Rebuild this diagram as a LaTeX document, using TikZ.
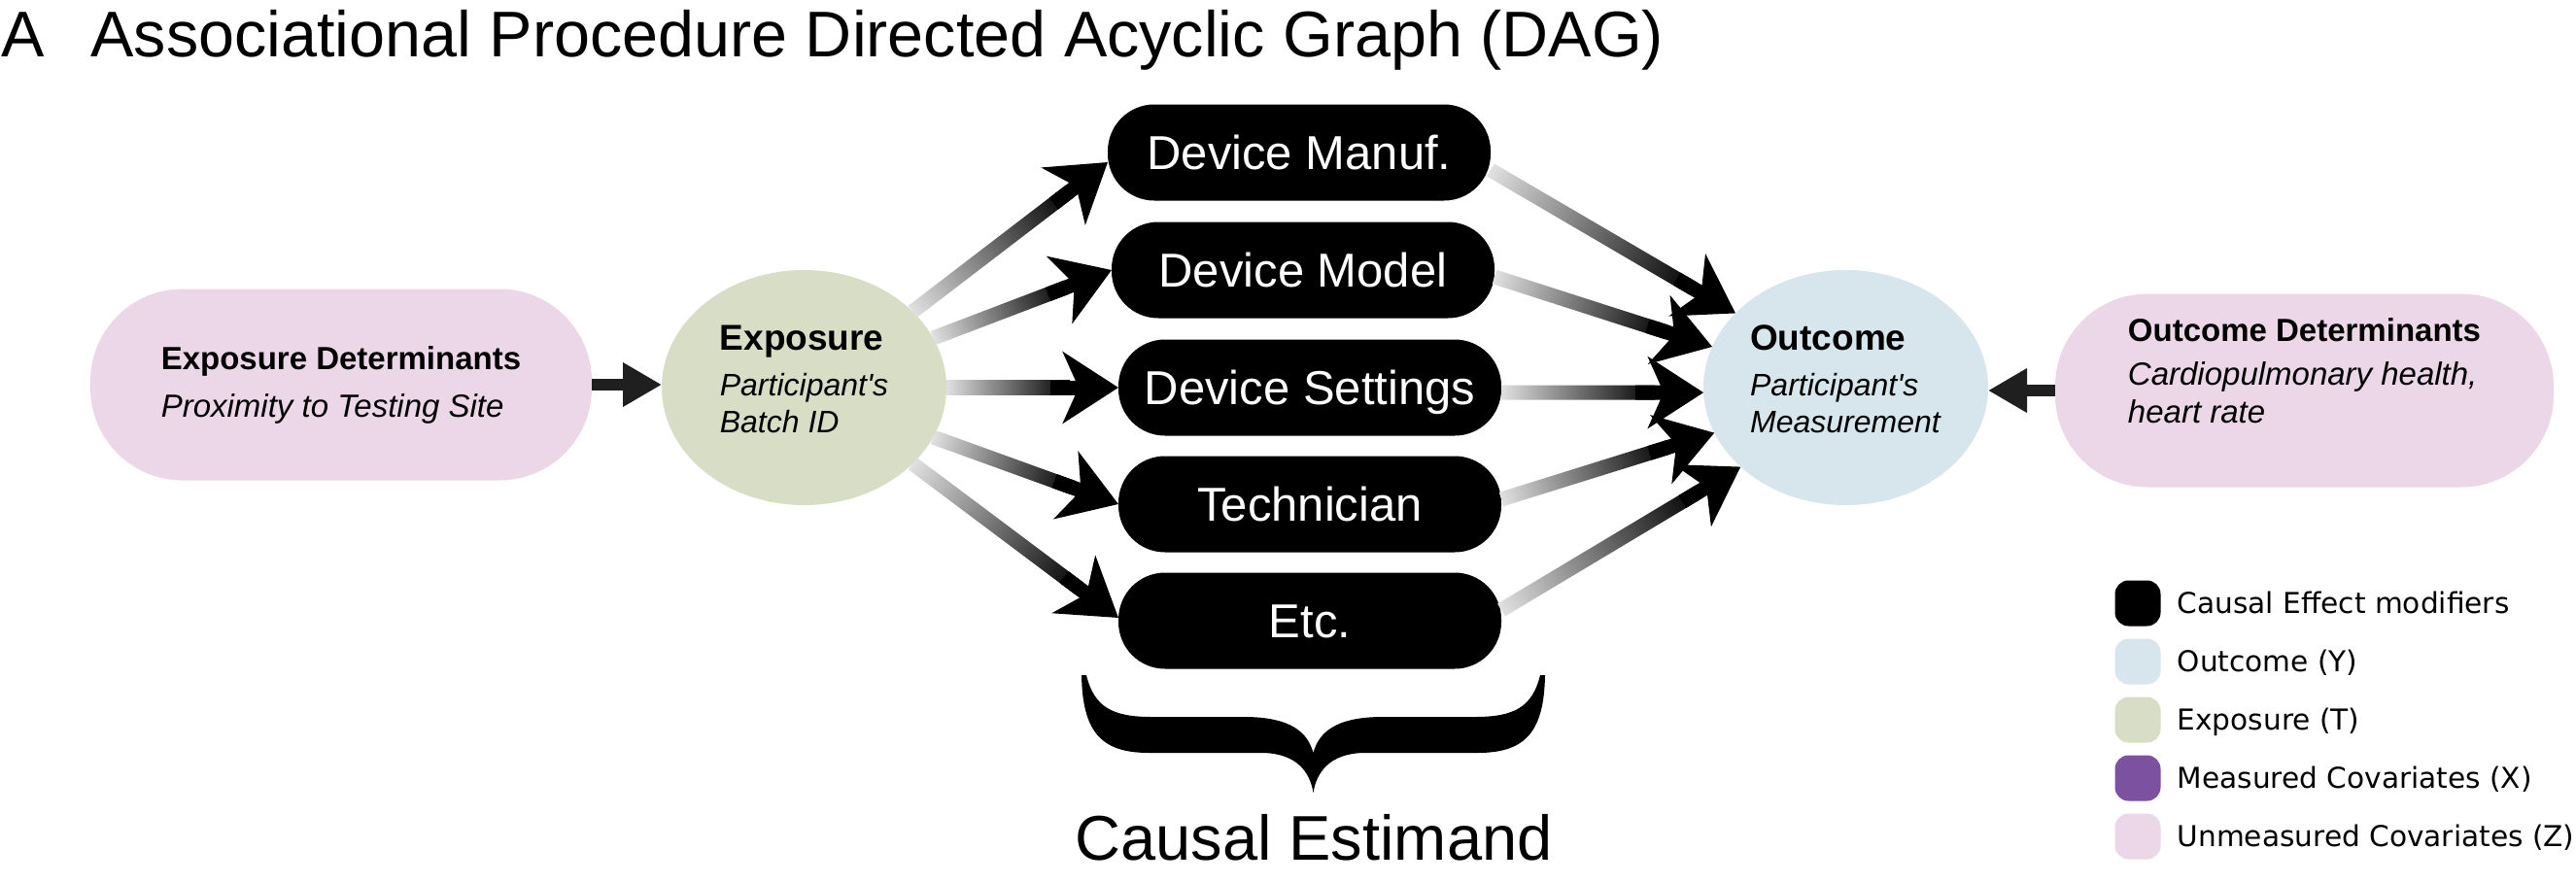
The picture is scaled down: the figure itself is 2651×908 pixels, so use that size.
\documentclass[tikz,border=0pt]{standalone}
\usepackage{fontspec}
\setmainfont{Liberation Sans}
\newfontfamily\legendfont{DejaVu Sans}
\usetikzlibrary{positioning,shapes.geometric,arrows.meta,calc}
\definecolor{unmcol}{HTML}{EBD7E8}
\definecolor{expcol}{HTML}{D8DEC5}
\definecolor{outcol}{HTML}{D6E6EC}
\definecolor{meascol}{HTML}{7B51A0}
\newcommand{\gradarrow}[2]{%
  \path let \p1=(#1), \p2=(#2) in \pgfextra{%
    \pgfmathsetmacro\tmpang{atan2(\y2-\y1,\x2-\x1)}\global\let\arrang\tmpang
    \pgfmathsetmacro\tmplen{veclen(\x2-\x1,\y2-\y1)-50}\global\let\arrlen\tmplen};
  \begin{scope}[transform canvas={shift={(#1)},rotate=\arrang}]
    \shade[ceshaft] (0pt,-7.5pt) rectangle (\arrlen pt,7.5pt);
  \end{scope}
  \draw[cehead] ($(#2)!70pt!(#1)$) -- (#2);
}

\begin{document}
\begin{tikzpicture}[x=1pt,y=-1pt,
  unmeasured/.style={rectangle,rounded corners=95pt,fill=unmcol,minimum width=516pt,minimum height=197pt,
    inner sep=0pt,outer sep=0pt,align=left,font=\fontsize{33}{40}\selectfont},
  exposure/.style={ellipse,fill=expcol,minimum width=293pt,minimum height=242pt,
    inner sep=0pt,outer sep=0pt,align=left,font=\fontsize{32}{38}\selectfont,text depth=18pt},
  outcome/.style={exposure,fill=outcol},
  modifier/.style={rectangle,rounded corners=48pt,fill=black,text=white,minimum width=394pt,minimum height=99pt,
    inner sep=0pt,outer sep=0pt,font=\fontsize{49}{58}\selectfont,text height=35pt,text depth=0pt},
  ceshaft/.style={left color=black!12,right color=black},
  cehead/.style={line width=15pt,-{Stealth[length=57pt,width=73pt,inset=16pt]}},
  detarrow/.style={line width=12pt,black!88,-{Triangle[length=40pt,width=43pt]}},
  swatch/.style={rectangle,rounded corners=14pt,minimum size=47pt,inner sep=0pt,outer sep=0pt},
  legtext/.style={inner sep=0pt,font=\legendfont\fontsize{29.6}{35}\selectfont,text height=21.6pt,text depth=0pt}]
\fill[white] (0,0) rectangle (2651,908);
\useasboundingbox (0,0) rectangle (2651,908);

\node[anchor=base west,inner sep=0pt,font=\fontsize{66.5}{80}\selectfont] (title) at (1,58)
  {A\hspace{48pt}Associational Procedure Directed Acyclic Graph (DAG)};

\node[unmeasured] (expdet) at (351,396) {\textbf{Exposure Determinants}\\[9pt]\textit{Proximity to Testing Site}};
\node[exposure, right=72pt of expdet, yshift=-3pt] (expo)
  {\textbf{\fontsize{37}{38}\selectfont Exposure}\\[9pt]\textit{Participant\textquotesingle s}\\\textit{Batch ID}};
\node[modifier, right=177pt of expo] (settings) {Device Settings};
\node[modifier, above=22pt of settings, xshift=-7pt] (model) {Device Model};
\node[modifier, above=22pt of model, xshift=-4pt] (manuf) {Device Manuf.};
\node[modifier, below=21pt of settings] (tech) {Technician};
\node[modifier, below=21pt of tech] (etc) {Etc.};
\node[outcome, right=208pt of settings] (outc)
  {\textbf{\fontsize{37}{38}\selectfont Outcome}\\[9pt]\textit{Participant\textquotesingle s}\\\textit{Measurement}};
\node[unmeasured, minimum width=513pt, minimum height=199pt, right=69pt of outc, yshift=-3pt,
  font=\fontsize{33}{39}\selectfont, text depth=40pt] (outdet)
  {\textbf{Outcome Determinants}\\[6pt]\textit{Cardiopulmonary health,}\\\textit{heart rate}};

\draw[detarrow] (expdet.east) -- (expdet.east -| expo.west);
\draw[detarrow] (outdet.west) -- (outdet.west -| outc.east);

\gradarrow{expo.35}{[yshift=-10pt]manuf.west}
\gradarrow{expo.21}{model.west}
\gradarrow{expo.0}{settings.west}
\gradarrow{expo.-21}{tech.west}
\gradarrow{expo.-35}{[yshift=3pt]etc.west}
\gradarrow{[yshift=-18pt]manuf.east}{outc.146}
\gradarrow{[yshift=-7pt]model.east}{outc.163}
\gradarrow{[yshift=-5pt]settings.east}{outc.182}
\gradarrow{[yshift=5pt]tech.east}{outc.199}
\gradarrow{[yshift=11pt]etc.east}{outc.217}

% brace under the modifiers
\fill (1113,695) .. controls (1114,752) and (1132,775) .. (1182,775) -- (1300,775)
  .. controls (1335,776) and (1348,795) .. (1351.5,816) .. controls (1355,795) and (1368,776) .. (1403,775)
  -- (1521,775) .. controls (1571,775) and (1589,752) .. (1590,695) -- (1585,695)
  .. controls (1577,728) and (1558,738) .. (1518,738) -- (1423,738)
  .. controls (1373,738) and (1357,755) .. (1351.5,775) .. controls (1346,755) and (1330,738) .. (1280,738)
  -- (1185,738) .. controls (1145,738) and (1126,728) .. (1118,695) -- cycle;
\node[anchor=base,inner sep=0pt,font=\fontsize{65}{78}\selectfont] (estimand) at (1352,885) {Causal Estimand};

% legend
\node[swatch, fill=black] (legmod) at (2200,621) {};
\node[swatch, fill=outcol, below=13pt of legmod] (legout) {};
\node[swatch, fill=expcol, below=13pt of legout] (legexp) {};
\node[swatch, fill=meascol, below=13pt of legexp] (legmeas) {};
\node[swatch, fill=unmcol, below=13pt of legmeas] (legunm) {};
\node[legtext, right=17pt of legmod] (legmodtxt) {Causal Effect modifiers};
\node[legtext, right=17pt of legout] (legouttxt) {Outcome (Y)};
\node[legtext, right=17pt of legexp] (legexptxt) {Exposure (T)};
\node[legtext, right=17pt of legmeas] (legmeastxt) {Measured Covariates (X)};
\node[legtext, right=17pt of legunm] (legunmtxt) {Unmeasured Covariates (Z)};
\end{tikzpicture}
\end{document}
